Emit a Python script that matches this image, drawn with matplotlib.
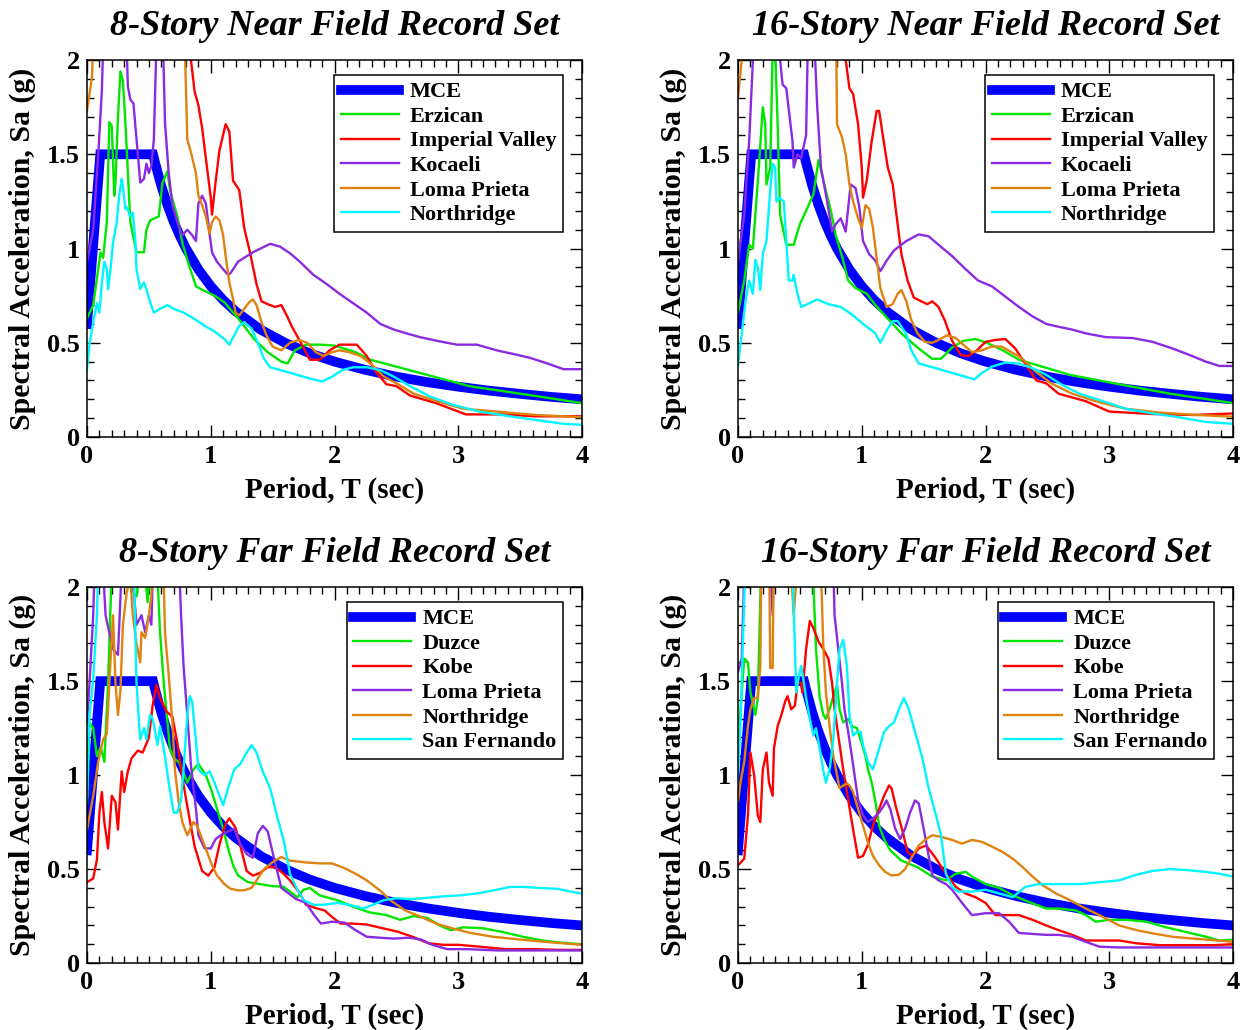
import matplotlib
matplotlib.use('Agg')
import matplotlib.pyplot as plt
from matplotlib.ticker import MultipleLocator, FuncFormatter

plt.rcParams['font.family'] = ['Liberation Serif', 'DejaVu Serif']
plt.rcParams['font.weight'] = 'bold'
plt.rcParams['mathtext.default'] = 'regular'

# ---------------- MCE design spectrum ----------------
mce_T = [0, 0.107, 0.533, 0.55, 0.6, 0.65, 0.7, 0.75, 0.8, 0.9, 1.0, 1.1, 1.2, 1.4, 1.6, 1.8, 2.0, 2.25, 2.5, 2.75, 3.0, 3.25, 3.5, 3.75, 4.0]
mce_Sa = [0.6, 1.5, 1.5, 1.455, 1.333, 1.231, 1.143, 1.067, 1.0, 0.889, 0.8, 0.727, 0.667, 0.571, 0.5, 0.444, 0.4, 0.356, 0.32, 0.291, 0.267, 0.246, 0.229, 0.213, 0.2]

# ---------------- 8-Story Near Field ----------------
nf8_erzican_T = [0, 0.05, 0.09, 0.11, 0.13, 0.16, 0.18, 0.20, 0.22, 0.23, 0.25, 0.27, 0.29, 0.31, 0.35, 0.40, 0.46, 0.48, 0.51, 0.58, 0.61, 0.65, 0.67, 0.73, 0.77, 0.82, 0.88, 0.92, 1.03, 1.11, 1.22, 1.35, 1.46, 1.57, 1.62, 1.68, 1.77, 1.89, 2.0, 2.17, 2.29, 2.69, 3.09, 3.5, 4.0]
nf8_erzican_Sa = [0.63, 0.70, 0.89, 0.98, 0.95, 1.14, 1.67, 1.65, 1.28, 1.35, 1.70, 1.94, 1.89, 1.67, 1.14, 0.98, 0.98, 1.10, 1.15, 1.17, 1.35, 1.41, 1.31, 1.17, 1.03, 0.92, 0.80, 0.785, 0.75, 0.715, 0.63, 0.52, 0.45, 0.40, 0.39, 0.46, 0.49, 0.49, 0.485, 0.45, 0.41, 0.34, 0.27, 0.23, 0.18]
nf8_imperial_T = [0, 0.84, 0.87, 0.90, 0.93, 0.96, 1.0, 1.01, 1.04, 1.07, 1.12, 1.15, 1.18, 1.23, 1.27, 1.32, 1.37, 1.41, 1.46, 1.52, 1.57, 1.61, 1.66, 1.72, 1.80, 1.88, 1.96, 2.04, 2.18, 2.26, 2.34, 2.42, 2.50, 2.61, 2.82, 3.06, 3.36, 3.62, 4.0]
nf8_imperial_Sa = [2.3, 2.0, 1.83, 1.76, 1.64, 1.48, 1.27, 1.18, 1.36, 1.52, 1.66, 1.62, 1.36, 1.31, 1.11, 0.97, 0.81, 0.72, 0.705, 0.69, 0.70, 0.65, 0.58, 0.51, 0.41, 0.41, 0.46, 0.49, 0.49, 0.43, 0.34, 0.28, 0.27, 0.22, 0.18, 0.12, 0.12, 0.11, 0.11]
nf8_kocaeli_T = [0, 0.05, 0.09, 0.12, 0.14, 0.31, 0.33, 0.35, 0.375, 0.40, 0.43, 0.46, 0.48, 0.50, 0.52, 0.54, 0.57, 0.61, 0.63, 0.66, 0.69, 0.73, 0.77, 0.81, 0.85, 0.88, 0.90, 0.93, 0.96, 0.99, 1.01, 1.05, 1.10, 1.14, 1.16, 1.22, 1.34, 1.48, 1.56, 1.64, 1.72, 1.83, 1.94, 2.04, 2.15, 2.26, 2.37, 2.48, 2.58, 2.69, 2.83, 2.99, 3.15, 3.31, 3.45, 3.58, 3.72, 3.85, 4.0]
nf8_kocaeli_Sa = [0.93, 1.10, 1.49, 1.84, 2.3, 2.3, 1.86, 1.79, 1.77, 1.58, 1.35, 1.37, 1.45, 1.40, 1.44, 1.58, 2.3, 2.2, 1.67, 1.40, 1.23, 1.14, 1.07, 1.10, 1.07, 1.04, 1.24, 1.28, 1.24, 1.08, 0.98, 0.93, 0.89, 0.86, 0.87, 0.93, 0.98, 1.025, 1.01, 0.975, 0.93, 0.86, 0.81, 0.76, 0.71, 0.66, 0.60, 0.57, 0.55, 0.53, 0.51, 0.49, 0.49, 0.46, 0.44, 0.42, 0.39, 0.36, 0.36]
nf8_loma_T = [0, 0.02, 0.04, 0.06, 0.78, 0.80, 0.81, 0.84, 0.88, 0.90, 0.93, 0.96, 0.99, 1.01, 1.04, 1.07, 1.10, 1.12, 1.15, 1.18, 1.20, 1.23, 1.27, 1.31, 1.34, 1.37, 1.41, 1.45, 1.50, 1.57, 1.64, 1.71, 1.78, 1.85, 1.91, 1.98, 2.04, 2.12, 2.21, 2.29, 2.40, 2.50, 2.64, 2.83, 3.04, 3.31, 3.63, 4.0]
nf8_loma_Sa = [1.73, 1.82, 1.91, 2.3, 2.3, 1.84, 1.58, 1.51, 1.40, 1.28, 1.23, 1.17, 1.08, 1.14, 1.17, 1.15, 1.07, 0.96, 0.82, 0.73, 0.66, 0.645, 0.68, 0.715, 0.73, 0.70, 0.61, 0.54, 0.48, 0.46, 0.50, 0.515, 0.50, 0.45, 0.43, 0.45, 0.46, 0.45, 0.43, 0.39, 0.32, 0.285, 0.23, 0.19, 0.15, 0.135, 0.117, 0.105]
nf8_northridge_T = [0, 0.02, 0.05, 0.08, 0.10, 0.12, 0.14, 0.16, 0.17, 0.19, 0.21, 0.24, 0.26, 0.28, 0.29, 0.31, 0.32, 0.35, 0.37, 0.39, 0.40, 0.43, 0.46, 0.48, 0.51, 0.54, 0.59, 0.65, 0.70, 0.78, 0.86, 0.95, 1.03, 1.11, 1.15, 1.19, 1.23, 1.27, 1.33, 1.38, 1.43, 1.48, 1.59, 1.70, 1.80, 1.90, 1.98, 2.06, 2.15, 2.26, 2.37, 2.48, 2.61, 2.77, 2.96, 3.17, 3.42, 3.63, 3.85, 4.0]
nf8_northridge_Sa = [0.36, 0.49, 0.61, 0.71, 0.66, 0.82, 0.93, 0.89, 0.785, 0.89, 1.03, 1.14, 1.28, 1.37, 1.33, 1.21, 1.22, 1.17, 1.19, 1.05, 0.89, 0.785, 0.82, 0.785, 0.715, 0.66, 0.68, 0.70, 0.68, 0.66, 0.63, 0.59, 0.56, 0.52, 0.49, 0.54, 0.59, 0.61, 0.575, 0.50, 0.415, 0.37, 0.35, 0.33, 0.31, 0.295, 0.32, 0.355, 0.37, 0.37, 0.355, 0.32, 0.27, 0.215, 0.17, 0.135, 0.11, 0.09, 0.07, 0.065]

# ---------------- 16-Story Near Field ----------------
nf16_erzican_T = [0, 0.05, 0.09, 0.12, 0.17, 0.20, 0.22, 0.23, 0.26, 0.28, 0.30, 0.32, 0.34, 0.39, 0.45, 0.50, 0.55, 0.61, 0.65, 0.69, 0.75, 0.79, 0.84, 0.89, 0.95, 1.04, 1.11, 1.20, 1.32, 1.45, 1.57, 1.64, 1.73, 1.82, 1.92, 2.01, 2.14, 2.27, 2.68, 3.08, 3.49, 4.0]
nf16_erzican_Sa = [0.66, 0.83, 1.02, 1.0, 1.45, 1.75, 1.66, 1.34, 1.43, 2.05, 2.05, 1.66, 1.18, 1.02, 1.02, 1.13, 1.20, 1.29, 1.47, 1.36, 1.20, 1.07, 0.96, 0.83, 0.79, 0.76, 0.70, 0.635, 0.55, 0.475, 0.415, 0.415, 0.475, 0.51, 0.52, 0.50, 0.46, 0.41, 0.33, 0.28, 0.23, 0.18]
nf16_imperial_T = [0, 0.87, 0.90, 0.93, 0.97, 1.0, 1.01, 1.04, 1.08, 1.12, 1.14, 1.17, 1.21, 1.25, 1.28, 1.32, 1.37, 1.42, 1.48, 1.53, 1.57, 1.62, 1.67, 1.73, 1.80, 1.86, 1.93, 2.0, 2.08, 2.16, 2.24, 2.32, 2.41, 2.49, 2.59, 2.81, 3.0, 3.35, 3.68, 4.0]
nf16_imperial_Sa = [2.3, 2.0, 1.85, 1.82, 1.66, 1.43, 1.27, 1.36, 1.57, 1.73, 1.73, 1.60, 1.43, 1.34, 1.18, 0.97, 0.83, 0.74, 0.72, 0.705, 0.72, 0.69, 0.62, 0.51, 0.435, 0.43, 0.46, 0.505, 0.515, 0.52, 0.47, 0.39, 0.30, 0.285, 0.23, 0.19, 0.135, 0.122, 0.117, 0.125]
nf16_kocaeli_T = [0, 0.05, 0.09, 0.12, 0.14, 0.33, 0.34, 0.36, 0.39, 0.44, 0.45, 0.48, 0.51, 0.55, 0.57, 0.61, 0.64, 0.67, 0.72, 0.76, 0.79, 0.83, 0.87, 0.91, 0.95, 0.98, 1.01, 1.06, 1.11, 1.15, 1.20, 1.26, 1.36, 1.46, 1.54, 1.62, 1.73, 1.84, 1.94, 2.05, 2.16, 2.27, 2.38, 2.49, 2.59, 2.70, 2.81, 2.97, 3.19, 3.35, 3.51, 3.65, 3.78, 3.89, 4.0]
nf16_kocaeli_Sa = [0.93, 1.18, 1.57, 2.0, 2.3, 2.3, 2.0, 1.87, 1.85, 1.57, 1.43, 1.50, 1.48, 1.60, 2.3, 2.2, 1.75, 1.43, 1.25, 1.09, 1.13, 1.16, 1.09, 1.34, 1.32, 1.22, 1.04, 0.97, 0.935, 0.88, 0.935, 0.99, 1.04, 1.075, 1.065, 1.02, 0.96, 0.89, 0.83, 0.80, 0.745, 0.69, 0.64, 0.60, 0.585, 0.57, 0.55, 0.53, 0.525, 0.505, 0.47, 0.435, 0.40, 0.377, 0.377]
nf16_loma_T = [0, 0.03, 0.05, 0.79, 0.80, 0.84, 0.87, 0.90, 0.93, 0.97, 1.0, 1.03, 1.06, 1.09, 1.12, 1.15, 1.20, 1.25, 1.29, 1.32, 1.36, 1.40, 1.45, 1.51, 1.57, 1.62, 1.69, 1.76, 1.82, 1.89, 1.97, 2.05, 2.13, 2.21, 2.29, 2.40, 2.53, 2.70, 2.89, 3.13, 3.40, 3.70, 4.0]
nf16_loma_Sa = [1.80, 2.0, 2.3, 2.3, 1.66, 1.59, 1.50, 1.34, 1.25, 1.16, 1.11, 1.23, 1.21, 1.11, 0.95, 0.79, 0.69, 0.705, 0.76, 0.78, 0.72, 0.62, 0.55, 0.505, 0.50, 0.515, 0.54, 0.525, 0.49, 0.45, 0.46, 0.48, 0.48, 0.45, 0.42, 0.35, 0.285, 0.23, 0.19, 0.15, 0.13, 0.117, 0.108]
nf16_northridge_T = [0, 0.03, 0.06, 0.09, 0.12, 0.14, 0.16, 0.18, 0.20, 0.23, 0.26, 0.28, 0.30, 0.31, 0.33, 0.37, 0.39, 0.41, 0.44, 0.45, 0.48, 0.51, 0.56, 0.64, 0.73, 0.83, 0.92, 1.01, 1.11, 1.15, 1.20, 1.25, 1.29, 1.36, 1.40, 1.46, 1.60, 1.73, 1.91, 1.97, 2.05, 2.16, 2.27, 2.38, 2.49, 2.62, 2.76, 2.95, 3.13, 3.35, 3.56, 3.78, 4.0]
nf16_northridge_Sa = [0.38, 0.55, 0.72, 0.83, 0.76, 0.94, 0.90, 0.78, 0.97, 1.04, 1.31, 1.45, 1.43, 1.25, 1.27, 1.25, 1.04, 0.83, 0.83, 0.86, 0.76, 0.69, 0.705, 0.73, 0.705, 0.69, 0.65, 0.60, 0.55, 0.50, 0.565, 0.615, 0.615, 0.545, 0.46, 0.39, 0.365, 0.34, 0.306, 0.34, 0.373, 0.395, 0.39, 0.365, 0.33, 0.276, 0.23, 0.19, 0.15, 0.125, 0.105, 0.08, 0.07]

# ---------------- 8-Story Far Field ----------------
ff8_duzce_T = [0, 0.02, 0.05, 0.08, 0.11, 0.14, 0.17, 0.20, 0.25, 0.30, 0.35, 0.40, 0.45, 0.49, 0.53, 0.57, 0.59, 0.62, 0.65, 0.67, 0.70, 0.74, 0.77, 0.81, 0.86, 0.90, 0.96, 1.0, 1.05, 1.10, 1.14, 1.18, 1.22, 1.30, 1.40, 1.49, 1.59, 1.70, 1.75, 1.80, 1.88, 2.02, 2.15, 2.28, 2.42, 2.53, 2.64, 2.75, 2.85, 2.94, 3.04, 3.20, 3.36, 3.52, 3.68, 3.84, 4.0]
ff8_duzce_Sa = [0.85, 1.28, 1.25, 1.10, 1.15, 1.07, 1.49, 2.1, 2.4, 2.2, 2.0, 1.95, 2.2, 1.92, 2.3, 2.05, 1.76, 1.49, 1.28, 1.14, 1.09, 1.07, 1.03, 0.96, 1.03, 1.06, 1.0, 0.93, 0.82, 0.715, 0.61, 0.52, 0.466, 0.43, 0.42, 0.41, 0.405, 0.35, 0.39, 0.40, 0.36, 0.335, 0.30, 0.27, 0.255, 0.23, 0.25, 0.24, 0.20, 0.175, 0.19, 0.185, 0.165, 0.14, 0.12, 0.108, 0.10]
ff8_kobe_T = [0, 0.05, 0.08, 0.10, 0.12, 0.14, 0.17, 0.20, 0.23, 0.25, 0.28, 0.30, 0.33, 0.36, 0.41, 0.45, 0.50, 0.53, 0.56, 0.59, 0.64, 0.69, 0.73, 0.78, 0.83, 0.87, 0.93, 0.98, 1.03, 1.07, 1.12, 1.15, 1.20, 1.24, 1.29, 1.34, 1.40, 1.46, 1.52, 1.58, 1.64, 1.71, 1.77, 1.86, 1.92, 1.98, 2.05, 2.14, 2.26, 2.39, 2.51, 2.63, 2.76, 2.88, 3.0, 3.16, 3.38, 3.62, 3.81, 4.0]
ff8_kobe_Sa = [0.43, 0.45, 0.55, 0.80, 0.91, 0.75, 0.61, 0.89, 0.855, 0.71, 1.02, 0.91, 1.02, 1.09, 1.13, 1.12, 1.20, 1.37, 1.48, 1.41, 1.34, 1.31, 1.17, 0.95, 0.76, 0.62, 0.49, 0.465, 0.51, 0.63, 0.74, 0.77, 0.72, 0.62, 0.49, 0.465, 0.48, 0.51, 0.51, 0.48, 0.44, 0.38, 0.31, 0.29, 0.28, 0.245, 0.21, 0.21, 0.205, 0.185, 0.167, 0.14, 0.105, 0.097, 0.097, 0.088, 0.074, 0.074, 0.07, 0.07]
ff8_loma_T = [0, 0.02, 0.05, 0.07, 0.12, 0.15, 0.18, 0.21, 0.25, 0.30, 0.35, 0.40, 0.44, 0.47, 0.50, 0.52, 0.55, 0.72, 0.76, 0.78, 0.81, 0.84, 0.88, 0.90, 0.95, 1.0, 1.04, 1.08, 1.14, 1.19, 1.24, 1.29, 1.34, 1.38, 1.42, 1.46, 1.51, 1.57, 1.61, 1.69, 1.77, 1.83, 1.89, 1.98, 2.08, 2.17, 2.26, 2.36, 2.48, 2.60, 2.70, 2.79, 2.91, 3.07, 3.32, 3.62, 4.0]
ff8_loma_Sa = [1.28, 1.49, 1.85, 2.3, 2.2, 1.85, 1.76, 1.67, 1.64, 2.4, 2.2, 1.8, 1.85, 1.76, 1.85, 1.80, 2.5, 2.5, 1.85, 1.58, 1.32, 1.05, 0.82, 0.68, 0.61, 0.61, 0.66, 0.68, 0.70, 0.715, 0.63, 0.58, 0.56, 0.69, 0.73, 0.70, 0.56, 0.40, 0.38, 0.34, 0.32, 0.26, 0.21, 0.22, 0.215, 0.175, 0.14, 0.135, 0.13, 0.135, 0.125, 0.097, 0.074, 0.074, 0.067, 0.067, 0.067]
ff8_northridge_T = [0, 0.05, 0.09, 0.13, 0.16, 0.18, 0.21, 0.23, 0.25, 0.27, 0.29, 0.32, 0.35, 0.37, 0.40, 0.43, 0.44, 0.47, 0.50, 0.52, 0.54, 0.61, 0.63, 0.66, 0.69, 0.71, 0.74, 0.77, 0.81, 0.86, 0.89, 0.93, 0.97, 1.01, 1.05, 1.11, 1.16, 1.22, 1.27, 1.33, 1.38, 1.43, 1.50, 1.57, 1.64, 1.77, 1.89, 1.98, 2.08, 2.17, 2.26, 2.36, 2.45, 2.57, 2.70, 2.82, 2.95, 3.10, 3.28, 3.50, 3.75, 4.0]
ff8_northridge_Sa = [0.71, 0.89, 1.07, 1.19, 1.22, 1.49, 1.85, 1.49, 1.32, 1.45, 1.80, 1.97, 2.05, 1.85, 1.70, 1.60, 1.76, 1.73, 1.85, 1.96, 2.3, 2.3, 1.76, 1.53, 1.28, 1.03, 0.86, 0.75, 0.68, 0.75, 0.73, 0.66, 0.59, 0.52, 0.466, 0.42, 0.395, 0.387, 0.387, 0.40, 0.45, 0.50, 0.537, 0.564, 0.545, 0.535, 0.53, 0.53, 0.505, 0.475, 0.44, 0.39, 0.335, 0.28, 0.245, 0.21, 0.185, 0.16, 0.14, 0.125, 0.11, 0.097]
ff8_sanfernando_T = [0, 0.02, 0.05, 0.08, 0.10, 0.20, 0.29, 0.31, 0.33, 0.375, 0.40, 0.42, 0.43, 0.46, 0.48, 0.51, 0.53, 0.57, 0.59, 0.63, 0.66, 0.70, 0.73, 0.76, 0.78, 0.81, 0.83, 0.85, 0.88, 0.90, 0.95, 0.99, 1.03, 1.07, 1.10, 1.14, 1.19, 1.24, 1.29, 1.33, 1.37, 1.42, 1.48, 1.53, 1.59, 1.64, 1.70, 1.75, 1.83, 1.91, 2.02, 2.12, 2.23, 2.31, 2.40, 2.50, 2.61, 2.72, 2.88, 3.01, 3.15, 3.31, 3.42, 3.53, 3.64, 3.80, 3.91, 4.0]
ff8_sanfernando_Sa = [0.88, 1.32, 1.51, 1.85, 2.3, 2.4, 2.1, 2.0, 2.3, 2.2, 1.49, 1.28, 1.19, 1.25, 1.19, 1.32, 1.30, 1.16, 1.26, 1.10, 0.96, 0.80, 0.80, 0.87, 1.03, 1.32, 1.42, 1.39, 1.18, 1.03, 1.0, 1.02, 0.96, 0.89, 0.84, 0.93, 1.03, 1.06, 1.12, 1.16, 1.12, 1.02, 0.93, 0.795, 0.65, 0.475, 0.39, 0.335, 0.31, 0.31, 0.32, 0.31, 0.29, 0.31, 0.335, 0.345, 0.34, 0.345, 0.355, 0.36, 0.37, 0.39, 0.405, 0.405, 0.40, 0.395, 0.38, 0.37]

# ---------------- 16-Story Far Field ----------------
ff16_duzce_T = [0, 0.02, 0.05, 0.08, 0.10, 0.14, 0.16, 0.17, 0.19, 0.25, 0.30, 0.40, 0.50, 0.55, 0.61, 0.63, 0.66, 0.69, 0.71, 0.74, 0.77, 0.80, 0.82, 0.85, 0.89, 0.92, 0.96, 0.99, 1.03, 1.05, 1.08, 1.11, 1.14, 1.18, 1.23, 1.32, 1.45, 1.57, 1.68, 1.76, 1.84, 1.89, 2.0, 2.11, 2.22, 2.35, 2.49, 2.59, 2.73, 2.81, 2.89, 3.0, 3.14, 3.30, 3.46, 3.62, 3.78, 3.89, 4.0]
ff16_duzce_Sa = [1.10, 1.35, 1.62, 1.60, 1.44, 1.32, 1.41, 1.67, 2.2, 2.5, 2.3, 2.4, 2.2, 2.4, 2.0, 1.67, 1.41, 1.32, 1.30, 1.35, 1.42, 1.48, 1.35, 1.28, 1.30, 1.26, 1.25, 1.19, 1.10, 1.03, 0.96, 0.86, 0.73, 0.66, 0.60, 0.545, 0.51, 0.46, 0.44, 0.475, 0.485, 0.46, 0.42, 0.40, 0.36, 0.325, 0.29, 0.29, 0.28, 0.255, 0.22, 0.23, 0.23, 0.22, 0.19, 0.165, 0.14, 0.12, 0.125]
ff16_kobe_T = [0, 0.05, 0.08, 0.10, 0.13, 0.16, 0.18, 0.20, 0.23, 0.25, 0.28, 0.29, 0.32, 0.35, 0.38, 0.40, 0.43, 0.46, 0.48, 0.51, 0.52, 0.55, 0.58, 0.61, 0.65, 0.69, 0.73, 0.76, 0.78, 0.81, 0.85, 0.89, 0.93, 0.97, 1.01, 1.05, 1.09, 1.14, 1.18, 1.22, 1.24, 1.28, 1.33, 1.37, 1.41, 1.46, 1.52, 1.59, 1.68, 1.76, 1.84, 1.92, 2.0, 2.08, 2.16, 2.27, 2.38, 2.49, 2.59, 2.70, 2.81, 2.92, 3.08, 3.22, 3.41, 3.62, 3.84, 4.0]
ff16_kobe_Sa = [0.52, 0.555, 0.785, 1.12, 1.0, 0.785, 0.75, 1.03, 1.12, 0.96, 0.89, 1.14, 1.26, 1.32, 1.39, 1.42, 1.35, 1.37, 1.49, 1.49, 1.44, 1.67, 1.82, 1.78, 1.71, 1.67, 1.62, 1.49, 1.35, 1.21, 1.03, 0.87, 0.71, 0.56, 0.57, 0.63, 0.73, 0.82, 0.89, 0.945, 0.93, 0.82, 0.70, 0.59, 0.57, 0.61, 0.625, 0.565, 0.475, 0.405, 0.37, 0.35, 0.32, 0.255, 0.255, 0.255, 0.23, 0.20, 0.175, 0.15, 0.12, 0.12, 0.12, 0.105, 0.095, 0.095, 0.095, 0.10]
ff16_loma_T = [0, 0.03, 0.06, 0.20, 0.25, 0.28, 0.30, 0.76, 0.78, 0.81, 0.84, 0.86, 0.89, 0.92, 0.95, 0.97, 1.01, 1.05, 1.09, 1.14, 1.18, 1.20, 1.23, 1.27, 1.31, 1.35, 1.39, 1.43, 1.46, 1.50, 1.54, 1.57, 1.62, 1.68, 1.73, 1.81, 1.89, 2.0, 2.11, 2.19, 2.27, 2.38, 2.49, 2.59, 2.70, 2.81, 2.92, 3.08, 3.35, 3.62, 4.0]
ff16_loma_Sa = [1.55, 1.62, 2.3, 2.4, 2.2, 1.85, 2.4, 2.4, 1.85, 1.67, 1.49, 1.35, 1.23, 1.10, 0.96, 0.87, 0.785, 0.75, 0.77, 0.80, 0.84, 0.865, 0.82, 0.715, 0.66, 0.715, 0.80, 0.865, 0.85, 0.715, 0.57, 0.466, 0.44, 0.42, 0.39, 0.32, 0.255, 0.265, 0.265, 0.22, 0.16, 0.155, 0.15, 0.15, 0.14, 0.113, 0.087, 0.083, 0.083, 0.083, 0.083]
ff16_northridge_T = [0, 0.02, 0.05, 0.08, 0.10, 0.13, 0.16, 0.18, 0.19, 0.25, 0.26, 0.28, 0.29, 0.40, 0.45, 0.50, 0.66, 0.69, 0.71, 0.74, 0.77, 0.80, 0.82, 0.85, 0.88, 0.90, 0.93, 0.97, 1.01, 1.05, 1.09, 1.14, 1.19, 1.24, 1.30, 1.35, 1.41, 1.46, 1.52, 1.57, 1.65, 1.73, 1.81, 1.89, 1.97, 2.05, 2.14, 2.22, 2.30, 2.38, 2.46, 2.57, 2.68, 2.81, 2.95, 3.08, 3.22, 3.35, 3.51, 3.68, 3.84, 4.0]
ff16_northridge_Sa = [0.86, 0.96, 1.07, 1.26, 1.35, 1.41, 1.41, 1.58, 2.3, 2.3, 1.57, 1.57, 2.3, 2.4, 1.85, 2.3, 2.3, 1.67, 1.44, 1.26, 1.10, 1.0, 0.93, 0.945, 0.955, 0.945, 0.91, 0.82, 0.73, 0.64, 0.57, 0.52, 0.484, 0.466, 0.47, 0.50, 0.57, 0.625, 0.66, 0.68, 0.67, 0.655, 0.635, 0.655, 0.645, 0.62, 0.59, 0.555, 0.51, 0.46, 0.415, 0.37, 0.335, 0.29, 0.245, 0.20, 0.175, 0.158, 0.14, 0.13, 0.122, 0.113]
ff16_sanfernando_T = [0, 0.02, 0.05, 0.07, 0.43, 0.46, 0.47, 0.49, 0.51, 0.53, 0.55, 0.58, 0.61, 0.63, 0.66, 0.69, 0.71, 0.74, 0.77, 0.80, 0.82, 0.85, 0.88, 0.90, 0.93, 0.96, 0.99, 1.01, 1.05, 1.09, 1.14, 1.18, 1.22, 1.26, 1.30, 1.34, 1.38, 1.43, 1.49, 1.54, 1.60, 1.64, 1.68, 1.73, 1.78, 1.89, 2.0, 2.11, 2.22, 2.32, 2.43, 2.59, 2.76, 2.92, 3.08, 3.22, 3.35, 3.49, 3.62, 3.78, 3.89, 4.0]
ff16_sanfernando_Sa = [1.0, 1.28, 1.94, 2.3, 2.3, 1.67, 1.44, 1.52, 1.58, 1.50, 1.41, 1.30, 1.21, 1.25, 1.14, 1.02, 0.96, 1.03, 1.19, 1.49, 1.67, 1.72, 1.58, 1.32, 1.21, 1.23, 1.23, 1.16, 1.07, 1.03, 1.14, 1.23, 1.26, 1.28, 1.35, 1.41, 1.35, 1.23, 1.09, 0.93, 0.785, 0.68, 0.475, 0.405, 0.38, 0.38, 0.39, 0.37, 0.35, 0.405, 0.42, 0.42, 0.42, 0.43, 0.44, 0.47, 0.49, 0.50, 0.495, 0.485, 0.475, 0.46]

# ---------------- Styles ----------------
C_MCE = '#0000FF'
C1 = '#00E600'   # green
C2 = '#FF0000'   # red
C3 = '#8A2BE2'   # purple
C4 = '#E0820F'   # orange
C5 = '#00F5FF'   # cyan

panels = [
    ('8-Story Near Field Record Set', [0.0699, 0.5757, 0.3976, 0.3660], [
        ('Erzican', nf8_erzican_T, nf8_erzican_Sa, C1),
        ('Imperial Valley', nf8_imperial_T, nf8_imperial_Sa, C2),
        ('Kocaeli', nf8_kocaeli_T, nf8_kocaeli_Sa, C3),
        ('Loma Prieta', nf8_loma_T, nf8_loma_Sa, C4),
        ('Northridge', nf8_northridge_T, nf8_northridge_Sa, C5)]),
    ('16-Story Near Field Record Set', [0.5928, 0.5757, 0.3976, 0.3660], [
        ('Erzican', nf16_erzican_T, nf16_erzican_Sa, C1),
        ('Imperial Valley', nf16_imperial_T, nf16_imperial_Sa, C2),
        ('Kocaeli', nf16_kocaeli_T, nf16_kocaeli_Sa, C3),
        ('Loma Prieta', nf16_loma_T, nf16_loma_Sa, C4),
        ('Northridge', nf16_northridge_T, nf16_northridge_Sa, C5)]),
    ('8-Story Far Field Record Set', [0.0699, 0.0650, 0.3976, 0.3650], [
        ('Duzce', ff8_duzce_T, ff8_duzce_Sa, C1),
        ('Kobe', ff8_kobe_T, ff8_kobe_Sa, C2),
        ('Loma Prieta', ff8_loma_T, ff8_loma_Sa, C3),
        ('Northridge', ff8_northridge_T, ff8_northridge_Sa, C4),
        ('San Fernando', ff8_sanfernando_T, ff8_sanfernando_Sa, C5)]),
    ('16-Story Far Field Record Set', [0.5928, 0.0650, 0.3976, 0.3650], [
        ('Duzce', ff16_duzce_T, ff16_duzce_Sa, C1),
        ('Kobe', ff16_kobe_T, ff16_kobe_Sa, C2),
        ('Loma Prieta', ff16_loma_T, ff16_loma_Sa, C3),
        ('Northridge', ff16_northridge_T, ff16_northridge_Sa, C4),
        ('San Fernando', ff16_sanfernando_T, ff16_sanfernando_Sa, C5)]),
]

fig = plt.figure(figsize=(12.45, 10.30), dpi=100)

for title, pos, records in panels:
    ax = fig.add_axes(pos)
    ax.plot(mce_T, mce_Sa, color=C_MCE, lw=7, label='MCE', solid_joinstyle='miter')
    for name, T, Sa, col in records:
        ax.plot(T, Sa, color=col, lw=1.7, label=name)
    ax.set_xlim(0, 4)
    ax.set_ylim(0, 2)
    ax.xaxis.set_major_locator(MultipleLocator(1))
    ax.xaxis.set_minor_locator(MultipleLocator(0.1))
    ax.yaxis.set_major_locator(MultipleLocator(0.5))
    ax.yaxis.set_minor_locator(MultipleLocator(0.1))
    ax.yaxis.set_major_formatter(FuncFormatter(lambda v, p: '%g' % v))
    ax.tick_params(which='both', direction='in', top=True, right=True,
                   labelsize=19, width=1.0)
    ax.tick_params(axis='x', which='both', pad=6)
    ax.tick_params(axis='y', which='both', pad=5)
    ax.tick_params(which='major', length=9)
    ax.tick_params(which='minor', length=5)
    for s in ax.spines.values():
        s.set_linewidth(1.1)
    ax.set_title(title, fontsize=26, fontstyle='italic', fontweight='bold', pad=18)
    ax.set_xlabel('Period, T (sec)', fontsize=21, fontweight='bold', labelpad=6)
    ax.set_ylabel('Spectral Acceleration, Sa (g)', fontsize=21.5, fontweight='bold', labelpad=8)
    leg = ax.legend(loc='upper right', bbox_to_anchor=(0.962, 0.96), borderaxespad=0,
                    fontsize=16, frameon=True, fancybox=False, edgecolor='black',
                    framealpha=1, handlelength=2.6, handletextpad=0.5,
                    labelspacing=0.18, borderpad=0.3)
    leg.get_frame().set_linewidth(1.1)

fig.savefig('out.png', dpi=100)
